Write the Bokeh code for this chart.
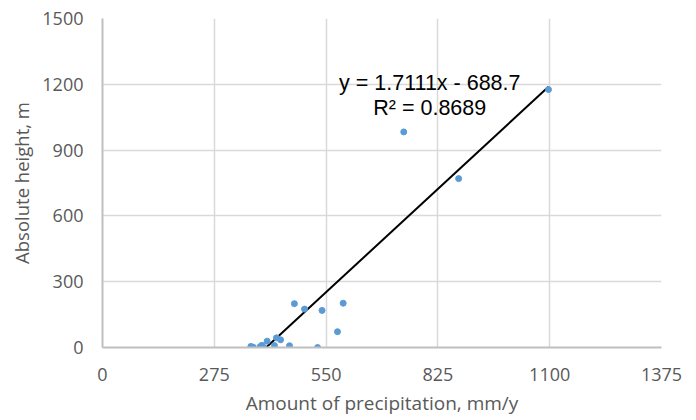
from bokeh.plotting import figure
from bokeh.models import Range1d, FixedTicker, Label
from bokeh.embed import file_html
from bokeh.resources import INLINE

# Data
precip = [365, 371, 388, 392, 396, 405, 423, 428, 438, 460, 472, 497, 529, 540, 578, 592, 741, 876, 1097]
height = [5, 1, 4, 10, 1, 29, 9, 44, 35, 8, 200, 175, 0, 169, 72, 202, 983, 770, 1176]
x_ticks = [0, 275, 550, 825, 1100, 1375]
y_ticks = [0, 300, 600, 900, 1200, 1500]
slope = 1.7111
intercept = -688.7
eq_text = "y = 1.7111x - 688.7"
r2_text = "R² = 0.8689"

p = figure(width=696, height=420, output_backend="svg", toolbar_location=None,
           x_range=Range1d(0, 1375), y_range=Range1d(0, 1500),
           min_border_left=102, min_border_right=35, min_border_top=18, min_border_bottom=73)
p.outline_line_color = None
p.background_fill_color = "white"
p.border_fill_color = "white"

for ax in (p.xaxis[0], p.yaxis[0]):
    ax.axis_line_color = "#BFBFBF"
    ax.axis_line_width = 2
    ax.major_tick_line_color = None
    ax.minor_tick_line_color = None
    ax.major_label_text_font = "Open Sans"
    ax.major_label_text_font_size = "18px"
    ax.major_label_text_color = "#595959"
    ax.axis_label_text_font = "Open Sans"
    ax.axis_label_text_color = "#595959"
    ax.axis_label_text_font_style = "normal"

p.xaxis.axis_label_text_font_size = "19px"
p.yaxis.axis_label_text_font_size = "18.5px"
p.xaxis.ticker = FixedTicker(ticks=x_ticks)
p.yaxis.ticker = FixedTicker(ticks=y_ticks)
p.xaxis.axis_label = "Amount of precipitation, mm/y"
p.yaxis.axis_label = "Absolute height, m"
p.xaxis.major_label_standoff = 14
p.yaxis.major_label_standoff = 13
p.xaxis.axis_label_standoff = 6
p.yaxis.axis_label_standoff = 5

p.xgrid.ticker = FixedTicker(ticks=x_ticks)
p.ygrid.ticker = FixedTicker(ticks=y_ticks)
p.grid.grid_line_color = "#D9D9D9"
p.grid.grid_line_width = 1.5

# trendline across data x range (clipped by frame)
x0, x1 = min(precip), max(precip)
p.line([x0, x1], [slope * x0 + intercept, slope * x1 + intercept], line_color="black", line_width=2)

p.scatter(precip, height, size=6, fill_color="#5B9BD5", line_color="#5B9BD5")

p.add_layout(Label(x=805, y=1208, text=eq_text, text_align="center", text_baseline="alphabetic",
                   text_font="Liberation Sans", text_font_size="21.5px", text_color="black"))
p.add_layout(Label(x=805, y=1093, text=r2_text, text_align="center", text_baseline="alphabetic",
                   text_font="Liberation Sans", text_font_size="21.5px", text_color="black"))

open("out.html", "w").write(file_html(p, INLINE))
